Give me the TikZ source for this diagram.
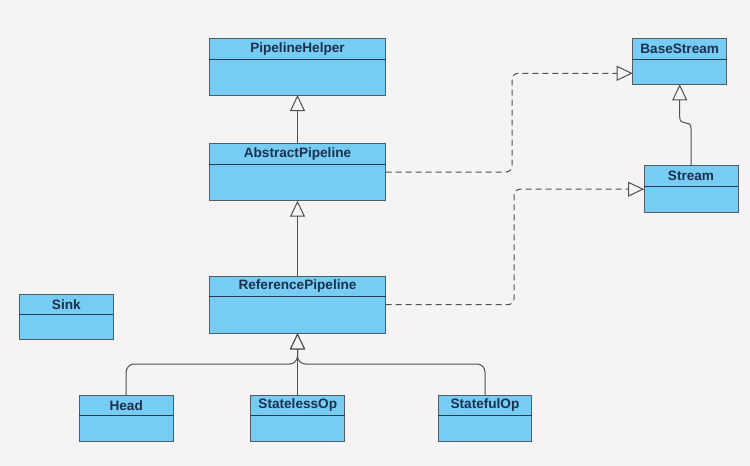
\documentclass[tikz,border=0pt]{standalone}
\usepackage{fontspec}
\setmainfont{Liberation Sans}
\usetikzlibrary{arrows.meta,calc}
\definecolor{bg}{RGB}{245,243,244}
\definecolor{boxfill}{RGB}{118,204,242}
\definecolor{boxline}{RGB}{80,92,104}
\definecolor{divline}{RGB}{40,58,80}
\definecolor{titlecol}{RGB}{28,48,80}
\definecolor{conn}{RGB}{80,80,80}
\tikzset{
  cls/.style={draw=boxline, fill=boxfill, line width=1pt, rectangle, inner sep=0pt, outer sep=0pt},
  divider/.style={draw=divline, line width=1.1pt},
  title/.style={font=\bfseries\fontsize{13.6}{15}\selectfont, text=titlecol, inner sep=0pt},
  inherit/.style={draw=conn, line width=1pt, -{Triangle[open, length=16pt, width=15pt, fill=bg]}},
  realize/.style={inherit, dash pattern=on 6pt off 4pt, rounded corners=6pt},
}
\newcommand{\umlclass}[7]{%
  \node[cls, minimum width=#4pt, minimum height=#5pt, anchor=north] (#1) at (#2,#3) {};
  \draw[divider] ([yshift=-#6pt]#1.north west) -- ([yshift=-#6pt]#1.north east);
  \node[title] (#1-t) at ([yshift={-0.5*#6pt}]#1.north) {#7};
}
\begin{document}
\begin{tikzpicture}[x=1pt,y=-1pt]
\fill[bg] (0,0) rectangle (750,466);
\useasboundingbox (0,0) rectangle (750,466);

\umlclass{PH}{297.5}{38.3}{176.4}{56.7}{21}{PipelineHelper}
\umlclass{AP}{297.5}{143.3}{176.4}{57.4}{21}{AbstractPipeline}
\umlclass{RP}{297.5}{276}{176.4}{57.3}{20.7}{ReferencePipeline}
\umlclass{Sink}{66.3}{294}{94}{45.3}{20.3}{Sink}
\umlclass{Head}{126.2}{395}{94.3}{46.7}{20.7}{Head}
\umlclass{SL}{297.8}{395}{94.3}{46.7}{20.7}{StatelessOp}
\umlclass{SF}{485}{395}{93.4}{46.7}{20.7}{StatefulOp}
\umlclass{BS}{679.7}{38.3}{94}{46}{21}{BaseStream}
\umlclass{ST}{691}{165.7}{94}{47}{21}{Stream}

% inheritance
\draw[inherit] (AP.north) -- (PH.south);
\draw[inherit] (RP.north) -- (AP.south);
\coordinate (bus) at (0,364);
\draw[inherit, rounded corners=8pt] (Head.north) -- (Head.north |- bus) -- (RP.south |- bus) -- (RP.south);
\draw[inherit, rounded corners=8pt] (SF.north) -- (SF.north |- bus) -- (RP.south |- bus) -- (RP.south);
\draw[inherit] (SL.north -| RP.south) -- (RP.south);

% Stream -> BaseStream
\coordinate (s1) at (691,128);
\coordinate (s2) at (679.7,117);
\draw[inherit] (ST.north) -- (s1) .. controls (691,119) and (679.7,127) .. (s2) -- (BS.south);

% realizations
\coordinate (bsin) at ([yshift=-12pt]BS.west);
\coordinate (c1) at (512,0);
\coordinate (c2) at (514,0);
\draw[realize] (AP.east) -| (c1 |- bsin) -- (bsin);
\draw[realize] (RP.east) -| (c2 |- ST.west) -- (ST.west);
\end{tikzpicture}
\end{document}
